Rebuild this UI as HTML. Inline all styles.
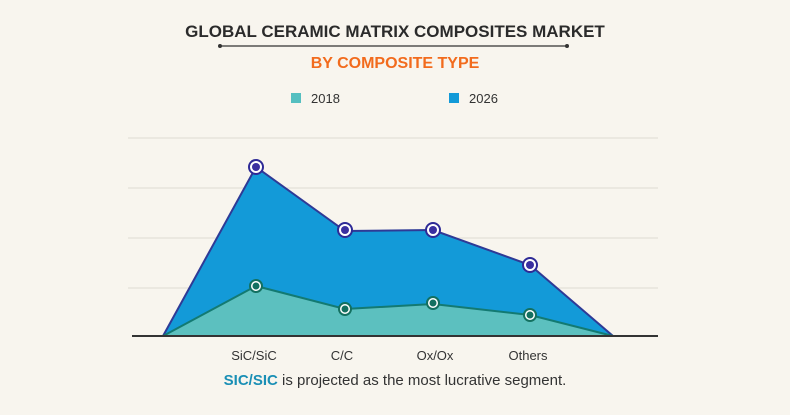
<!DOCTYPE html>
<html><head><style>
body{margin:0;background:#f8f5ee;}
svg{display:block;font-family:"Liberation Sans",sans-serif;}
</style></head><body>
<svg width="790" height="415" xmlns="http://www.w3.org/2000/svg">
<rect width="790" height="415" fill="#f8f5ee"/>
<text x="395" y="37" text-anchor="middle" font-size="17" font-weight="bold" fill="#2b2b2b">GLOBAL CERAMIC MATRIX COMPOSITES MARKET</text>
<line x1="220" y1="46" x2="567" y2="46" stroke="#333" stroke-width="1.2"/>
<circle cx="220" cy="46" r="2" fill="#333"/><circle cx="567" cy="46" r="2" fill="#333"/>
<text x="395" y="68" text-anchor="middle" font-size="16" font-weight="bold" fill="#f26b1d">BY COMPOSITE TYPE</text>
<rect x="291" y="93" width="10" height="10" fill="#55bfc0"/>
<text x="311" y="103" font-size="13" fill="#333">2018</text>
<rect x="449" y="93" width="10" height="10" fill="#139ad8"/>
<text x="469" y="103" font-size="13" fill="#333">2026</text>
<g stroke="#dedbd3" stroke-width="1">
<line x1="128" y1="138" x2="658" y2="138"/><line x1="128" y1="188" x2="658" y2="188"/>
<line x1="128" y1="238" x2="658" y2="238"/><line x1="128" y1="288" x2="658" y2="288"/>
</g>
<polygon points="163,336 256,167 345,231 433,230 530,265 613,336" fill="#139ad8" stroke="#2e3a96" stroke-width="2"/>
<polygon points="163,336 256,286 345,309 433,304 530,315 613,336" fill="#5cc0bf" stroke="#137a72" stroke-width="2"/>
<line x1="132" y1="336" x2="658" y2="336" stroke="#333" stroke-width="2"/>
<g stroke="#2e2a96" stroke-width="2" fill="#fff">
<circle cx="256" cy="167" r="7"/><circle cx="345" cy="230" r="7"/><circle cx="433" cy="230" r="7"/><circle cx="530" cy="265" r="7"/>
</g>
<g fill="#3a2fa0"><circle cx="256" cy="167" r="4"/><circle cx="345" cy="230" r="4"/><circle cx="433" cy="230" r="4"/><circle cx="530" cy="265" r="4"/></g>
<g stroke="#137060" stroke-width="2" fill="#fff">
<circle cx="256" cy="286" r="6"/><circle cx="345" cy="309" r="6"/><circle cx="433" cy="303" r="6"/><circle cx="530" cy="315" r="6"/>
</g>
<g fill="#137060"><circle cx="256" cy="286" r="3.5"/><circle cx="345" cy="309" r="3.5"/><circle cx="433" cy="303" r="3.5"/><circle cx="530" cy="315" r="3.5"/></g>
<g font-size="13" fill="#333" text-anchor="middle">
<text x="254" y="360">SiC/SiC</text><text x="342" y="360">C/C</text><text x="435" y="360">Ox/Ox</text><text x="528" y="360">Others</text>
</g>
<text x="395" y="385" text-anchor="middle" font-size="15" fill="#333"><tspan font-weight="bold" fill="#1a8fb5">SIC/SIC</tspan> is projected as the most lucrative segment.</text>
</svg>
</body></html>
